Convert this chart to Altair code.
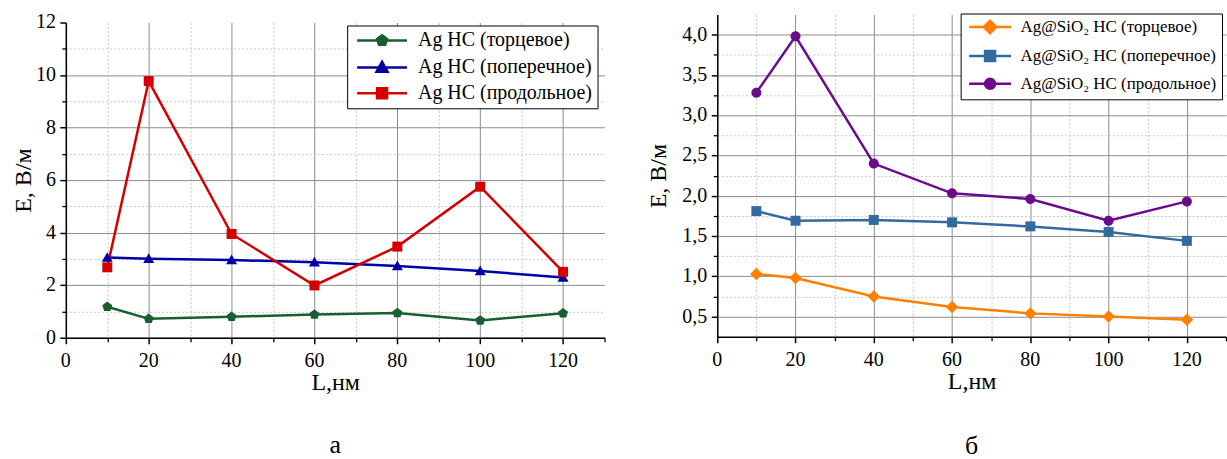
import altair as alt
import pandas as pd

# Particle length, nm
L = [10, 20, 40, 60, 80, 100, 120]

# Panel a: Ag nanostructures, field E (V/m)
ag_end = [1.18, 0.72, 0.80, 0.88, 0.94, 0.66, 0.93]
ag_trans = [3.05, 3.01, 2.96, 2.87, 2.73, 2.54, 2.29]
ag_long = [2.68, 9.77, 3.95, 1.99, 3.47, 5.75, 2.51]

# Panel b: Ag@SiO2 nanostructures, field E (V/m)
core_end = [1.03, 0.98, 0.75, 0.62, 0.54, 0.50, 0.46]
core_trans = [1.81, 1.69, 1.70, 1.67, 1.62, 1.55, 1.44]
core_long = [3.28, 3.98, 2.40, 2.03, 1.96, 1.69, 1.93]

names_a = ["Ag НС (торцевое)", "Ag НС (поперечное)", "Ag НС (продольное)"]
names_b = ["Ag@SiO₂ НС (торцевое)", "Ag@SiO₂ НС (поперечное)", "Ag@SiO₂ НС (продольное)"]

colors_a = ["#175e30", "#0000a6", "#d40000"]
colors_b = ["#ff8000", "#336b9e", "#6b0a8c"]

# tick values and their printed labels
x_ticks = [0, 20, 40, 60, 80, 100, 120]
x_minor_ticks = [10, 30, 50, 70, 90, 110, 130]
ya_ticks = [0, 2, 4, 6, 8, 10, 12]
ya_labels = ["0", "2", "4", "6", "8", "10", "12"]
ya_minor_ticks = [1, 3, 5, 7, 9, 11]
yb_ticks = [0.5, 1.0, 1.5, 2.0, 2.5, 3.0, 3.5, 4.0]
yb_labels = ["0,5", "1,0", "1,5", "2,0", "2,5", "3,0", "3,5", "4,0"]
yb_minor_ticks = [0.75, 1.25, 1.75, 2.25, 2.75, 3.25, 3.75]

FONT = "Liberation Serif"

# marker outlines in unit coordinates
PENTAGON = "M0,-1.05L1,-0.32L0.62,0.85L-0.62,0.85L-1,-0.32Z"
SQUARE = "M-1,-1H1V1H-1Z"
TRIANGLE = "M0,-1.1L1.1,0.85L-1.1,0.85Z"
DIAMOND = "M0,-1.25L1.25,0L0,1.25L-1.25,0Z"
CIRCLE = "M1,0A1,1,0,1,1,-1,0A1,1,0,1,1,1,0Z"


def legend_symbol(marker, half):
    # a line segment with the series marker in the middle
    return f"M-{half},0H{half}" + marker


def panel(series, names, colors, markers, half, ydom, yticks, ylabels,
          yminor, width, height, lx, ly, leg_font, row_pad, caption,
          cap_offset, ytitle_pad):
    rows = []
    for name, vals in zip(names, series):
        for l, v in zip(L, vals):
            rows.append({"L": l, "E": v, "series": name})
    df = pd.DataFrame(rows)
    base = alt.Chart(df)

    xsc = alt.Scale(domain=[0, 130], nice=False, zero=False)
    ysc = alt.Scale(domain=ydom, nice=False, zero=False)
    csc = alt.Scale(domain=names, range=colors)

    minor_grid = dict(grid=True, gridColor="#c8c8c8", gridDash=[2, 2],
                      gridWidth=1, labels=False, title=None, domain=False,
                      tickSize=4, tickWidth=1.3, tickColor="black")
    x_minor = alt.Axis(values=x_minor_ticks, orient="bottom",
                       gridOpacity=alt.condition("datum.value >= 130",
                                                 alt.value(0), alt.value(1)),
                       **minor_grid)
    y_minor = alt.Axis(values=yminor, orient="left", **minor_grid)

    major = dict(grid=True, gridColor="#8c8c8c", gridWidth=1, labels=False,
                 domain=True, domainColor="black", domainWidth=1.5,
                 tickSize=6, tickWidth=1.5, tickColor="black",
                 titleFont=FONT, titleFontSize=24, titleFontWeight="normal",
                 titleColor="black")
    x_major = alt.Axis(values=x_ticks, orient="bottom", title="L,нм",
                       titlePadding=26, **major)
    y_major = alt.Axis(values=yticks, orient="left", title="E, В/м",
                       titlePadding=ytitle_pad,
                       gridOpacity=alt.condition(f"datum.value >= {ydom[1]}",
                                                 alt.value(0), alt.value(1)),
                       **major)

    lines = base.mark_line(strokeWidth=2.5).encode(
        x=alt.X("L:Q", scale=xsc, axis=x_minor),
        y=alt.Y("E:Q", scale=ysc, axis=y_minor),
        color=alt.Color("series:N", scale=csc, legend=None),
    )

    # one point layer per series, each with its own marker
    point_layers = []
    for i, (name, colour, marker) in enumerate(zip(names, colors, markers)):
        point_layers.append(
            base.transform_filter(alt.datum.series == name)
            .mark_point(filled=True, size=100, opacity=1, shape=marker,
                        color=colour)
            .encode(
                x=alt.X("L:Q", scale=xsc, axis=x_major if i == 0 else None),
                y=alt.Y("E:Q", scale=ysc, axis=y_major if i == 0 else None),
            )
        )

    # tick labels, placed through the same scales
    x_text = (
        alt.Chart(pd.DataFrame({"v": x_ticks, "t": [str(v) for v in x_ticks]}))
        .mark_text(font=FONT, fontSize=20, color="black", baseline="middle",
                   align="center")
        .encode(x=alt.X("v:Q", scale=xsc, axis=None),
                y=alt.value(height + 23), text="t:N")
    )
    y_text = (
        alt.Chart(pd.DataFrame({"v": yticks, "t": ylabels}))
        .mark_text(font=FONT, fontSize=20, color="black", baseline="middle",
                   align="right")
        .encode(y=alt.Y("v:Q", scale=ysc, axis=None),
                x=alt.value(-10), text="t:N")
    )

    leg = alt.Legend(title=None, orient="none", legendX=lx, legendY=ly,
                     labelFont=FONT, labelFontSize=leg_font, labelColor="black",
                     labelLimit=400, symbolSize=100, symbolStrokeWidth=2.5,
                     symbolOpacity=1, symbolOffset=half * 5 - 5,
                     labelOffset=half * 5 + 1, rowPadding=row_pad, padding=5,
                     strokeColor="black", fillColor="white")
    paths = [legend_symbol(m, half) for m in markers]
    # the key layer draws nothing; it only feeds the legend
    key = (
        base.transform_filter(alt.datum.E < -100)
        .mark_point(filled=True, opacity=1)
        .encode(
            x=alt.X("L:Q", scale=xsc, axis=None),
            y=alt.Y("E:Q", scale=ysc, axis=None),
            fill=alt.Fill("series:N", scale=csc, legend=leg),
            stroke=alt.Stroke("series:N", scale=csc, legend=leg),
            shape=alt.Shape("series:N",
                            scale=alt.Scale(domain=names, range=paths),
                            legend=leg),
        )
    )

    return (
        alt.layer(lines, *point_layers, x_text, y_text, key)
        .resolve_scale(color="independent")
        .resolve_axis(x="independent", y="independent")
        .properties(
            width=width, height=height,
            title=alt.TitleParams(caption, orient="bottom", anchor="middle",
                                  font=FONT, fontSize=26, fontWeight="normal",
                                  color="black", offset=cap_offset),
        )
    )


left = panel(
    [ag_end, ag_trans, ag_long], names_a, colors_a,
    [PENTAGON, TRIANGLE, SQUARE], 5,
    [0, 12], ya_ticks, ya_labels, ya_minor_ticks,
    540, 316, 282, 11, 20, 6, "а", 38, 24,
)
right = panel(
    [core_end, core_trans, core_long], names_b, colors_b,
    [DIAMOND, SQUARE, CIRCLE], 4.2,
    [0.25, 4.25], yb_ticks, yb_labels, yb_minor_ticks,
    510, 323, 244, -1, 17, 7, "б", 40, 40,
)

# empty strip that lowers panel a relative to panel b
spacer = (
    alt.Chart(pd.DataFrame({"s": [0]}))
    .mark_point(size=0, opacity=0)
    .encode(x=alt.X("s:Q", axis=None), y=alt.Y("s:Q", axis=None))
    .properties(width=540, height=1)
)

chart = (
    alt.hconcat(alt.vconcat(spacer, left, spacing=-3), right, spacing=41)
    .resolve_scale(color="independent", fill="independent",
                   stroke="independent", shape="independent")
    .properties(padding={"left": 11, "top": 12, "right": 0, "bottom": 0})
    .configure(font=FONT)
    .configure_view(stroke=None)
)

chart.save("out.html", embed_options={"renderer": "svg", "actions": False})
